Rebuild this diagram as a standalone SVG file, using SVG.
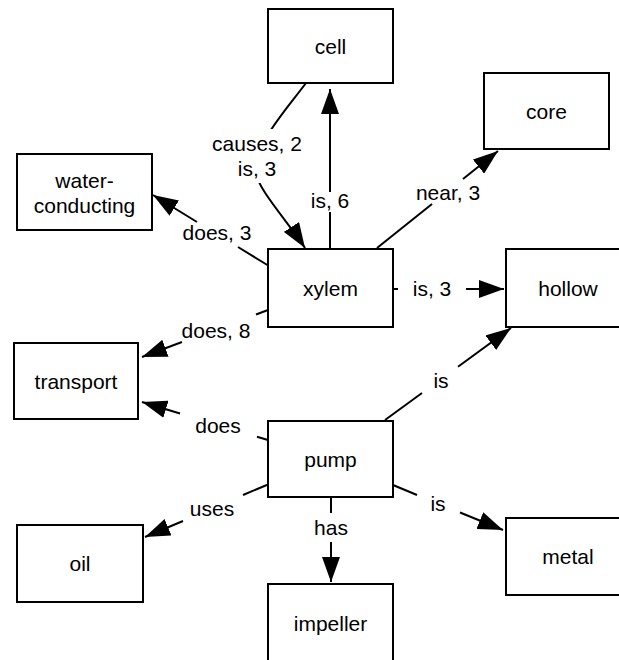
<svg xmlns="http://www.w3.org/2000/svg" width="619" height="660" viewBox="0 0 619 660">
  <style>
    .box { fill: #fff; stroke: #000; stroke-width: 2; }
    .edge { fill: none; stroke: #000; stroke-width: 2; }
    text { font-family: "Liberation Sans", Arial, Helvetica, sans-serif; font-size: 21px; text-anchor: middle; fill: #000; }
  </style>
  <defs>
    <marker id="arrow" viewBox="0 0 25 18" markerWidth="25" markerHeight="18" refX="25" refY="9" orient="auto" markerUnits="userSpaceOnUse">
      <path d="M0,0 L25,9 L0,18 Z" fill="#000"/>
    </marker>
  </defs>
  <rect width="619" height="660" fill="#fff"/>

  <!-- connectors: each edge is split where its label sits -->
  <g id="connectors">
    <!-- xylem -> cell : is, 6 -->
    <path class="edge" d="M330,249 L330,212"/>
    <path class="edge" d="M330,192 L330,89" marker-end="url(#arrow)"/>
    <text x="330" y="208">is, 6</text>

    <!-- cell -> xylem : causes, 2 / is, 3 -->
    <path class="edge" d="M306,83 C282,115 256,142 256,172 C256,187 288.8,222.8 305,248" marker-end="url(#arrow)"/>
    <rect x="205" y="129" width="107" height="54" fill="#fff"/>
    <text x="257" y="151">causes, 2</text>
    <text x="257" y="176">is, 3</text>

    <!-- xylem -> water-conducting : does, 3 -->
    <path class="edge" d="M269,266 L238,247"/>
    <path class="edge" d="M197,222 L153,195" marker-end="url(#arrow)"/>
    <text x="217" y="240">does, 3</text>

    <!-- xylem -> core : near, 3 -->
    <path class="edge" d="M377,248 L432,204"/>
    <path class="edge" d="M463,179 L498,151" marker-end="url(#arrow)"/>
    <text x="448" y="200">near, 3</text>

    <!-- xylem -> hollow : is, 3 -->
    <path class="edge" d="M393,289 L398,289"/>
    <path class="edge" d="M466,289 L504,289" marker-end="url(#arrow)"/>
    <text x="432" y="296">is, 3</text>

    <!-- xylem -> transport : does, 8 -->
    <path class="edge" d="M268,310 L256,314.5"/>
    <path class="edge" d="M182,342 L142,357" marker-end="url(#arrow)"/>
    <text x="216" y="338">does, 8</text>

    <!-- pump -> transport : does -->
    <path class="edge" d="M268,440 L257,436.7"/>
    <path class="edge" d="M180,413.5 L142,402" marker-end="url(#arrow)"/>
    <text x="218" y="433">does</text>

    <!-- pump -> hollow : is -->
    <path class="edge" d="M385,420 L422,393"/>
    <path class="edge" d="M458,366.7 L511,328" marker-end="url(#arrow)"/>
    <text x="441" y="388">is</text>

    <!-- pump -> oil : uses -->
    <path class="edge" d="M268,484.5 L243,495"/>
    <path class="edge" d="M183,521 L145,537" marker-end="url(#arrow)"/>
    <text x="212" y="516">uses</text>

    <!-- pump -> impeller : has -->
    <path class="edge" d="M331,497 L331,513"/>
    <path class="edge" d="M331,542 L331,582" marker-end="url(#arrow)"/>
    <text x="331" y="535">has</text>

    <!-- pump -> metal : is -->
    <path class="edge" d="M393,485 L417,495"/>
    <path class="edge" d="M460,512.5 L503,530" marker-end="url(#arrow)"/>
    <text x="438" y="511">is</text>
  </g>

  <!-- nodes -->
  <g id="cell">
    <rect class="box" x="268" y="9" width="125" height="74"/>
    <text x="330.5" y="54">cell</text>
  </g>
  <g id="core">
    <rect class="box" x="484" y="73" width="125" height="76"/>
    <text x="546.5" y="118.5">core</text>
  </g>
  <g id="water-conducting">
    <rect class="box" x="17" y="154" width="135" height="76"/>
    <text x="84.5" y="187.5">water-</text>
    <text x="84.5" y="212.5">conducting</text>
  </g>
  <g id="xylem">
    <rect class="box" x="268" y="249" width="125" height="78"/>
    <text x="330.5" y="295.5">xylem</text>
  </g>
  <g id="hollow">
    <rect class="box" x="506" y="249" width="125" height="78"/>
    <text x="568" y="295.5">hollow</text>
  </g>
  <g id="transport">
    <rect class="box" x="14" y="343" width="124" height="76"/>
    <text x="76" y="388.5">transport</text>
  </g>
  <g id="pump">
    <rect class="box" x="268" y="421" width="125" height="76"/>
    <text x="330.5" y="466.5">pump</text>
  </g>
  <g id="oil">
    <rect class="box" x="17" y="525" width="126" height="77"/>
    <text x="80" y="571">oil</text>
  </g>
  <g id="metal">
    <rect class="box" x="506" y="518" width="125" height="77"/>
    <text x="568" y="564">metal</text>
  </g>
  <g id="impeller">
    <rect class="box" x="268" y="584" width="125" height="80"/>
    <text x="330.5" y="631">impeller</text>
  </g>
</svg>
